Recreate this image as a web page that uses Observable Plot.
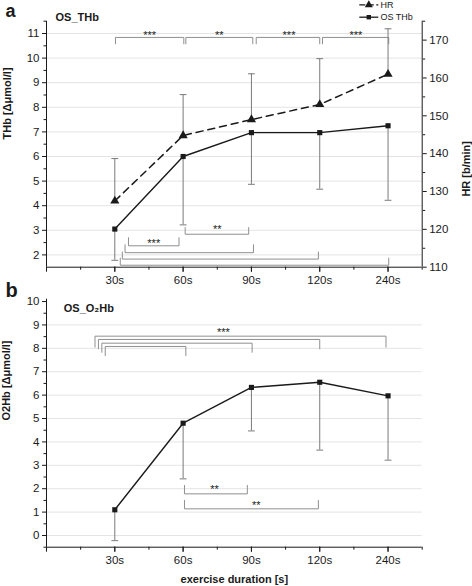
<!DOCTYPE html>
<html><head><meta charset="utf-8">
<script src="https://cdn.jsdelivr.net/npm/d3@7"></script>
<script src="https://cdn.jsdelivr.net/npm/@observablehq/plot@0.6"></script>
<style>
body{margin:0;background:#fff;}
#chart{width:472px;height:586px;}
#chart svg{display:block;overflow:visible;}
</style></head><body><div id="chart"></div>
<script>
// ---- data ----
const durations = ["30s", "60s", "90s", "120s", "240s"];
const positions = [1, 2, 3, 4, 5];
const thbMean = [3.05, 6.0, 6.97, 6.97, 7.25];
const thbLower = [1.78, 3.22, 4.87, 4.67, 4.22];
const hrMean = [127.5, 144.8, 149.0, 153.0, 161.0];
const hrUpper = [138.7, 155.6, 161.1, 165.1, 173.0];
const o2hbMean = [1.1, 4.8, 6.33, 6.55, 5.97];
const o2hbLower = [-0.22, 2.42, 4.47, 3.65, 3.22];
const thbTicks = [2, 3, 4, 5, 6, 7, 8, 9, 10, 11];
const thbMinor = [2.5, 3.5, 4.5, 5.5, 6.5, 7.5, 8.5, 9.5, 10.5, 11.5];
const hrTicks = [110, 120, 130, 140, 150, 160, 170];
const hrMinor = [115, 125, 135, 145, 155, 165, 175];
const o2hbTicks = [0, 1, 2, 3, 4, 5, 6, 7, 8, 9, 10];
const o2hbMinor = [-0.5, 0.5, 1.5, 2.5, 3.5, 4.5, 5.5, 6.5, 7.5, 8.5, 9.5];
const xMajor = [0, 1, 2, 3, 4, 5];
const xMinor = [0.5, 1.5, 2.5, 3.5, 4.5, 5.5];
// significance brackets (x in category positions, y in panel units)
const sigTopA = [
  {x1: 1.01, x2: 2.01, y: 10.84, leg: 10.58, label: "***", lx: 1.51, ly: 11.04},
  {x1: 2.04, x2: 3.02, y: 10.84, leg: 10.58, label: "**", lx: 2.53, ly: 11.04},
  {x1: 3.07, x2: 4.00, y: 10.84, leg: 10.58, label: "***", lx: 3.55, ly: 11.04},
  {x1: 4.04, x2: 5.01, y: 10.84, leg: 10.58, label: "***", lx: 4.53, ly: 11.04}
];
const sigLowA = [
  {x1: 2.03, x2: 2.96, y: 2.84, leg: 3.11, label: "**", lx: 2.5, ly: 3.14},
  {x1: 1.20, x2: 1.94, y: 2.37, leg: 2.70, label: "***", lx: 1.57, ly: 2.57},
  {x1: 1.15, x2: 3.03, y: 2.09, leg: 2.41, label: "", lx: 2, ly: 2},
  {x1: 1.11, x2: 3.98, y: 1.83, leg: 2.12, label: "", lx: 2, ly: 2},
  {x1: 1.08, x2: 5.01, y: 1.58, leg: 1.87, label: "", lx: 2, ly: 2}
];
const sigTopB = [
  {x1: 0.71, x2: 4.97, y: 8.52, leg: 8.05, label: "***", lx: 2.59, ly: 8.8},
  {x1: 0.76, x2: 4.00, y: 8.38, leg: 7.98, label: "", lx: 2, ly: 8},
  {x1: 0.81, x2: 3.01, y: 8.22, leg: 7.83, label: "", lx: 2, ly: 8},
  {x1: 0.86, x2: 2.04, y: 8.08, leg: 7.69, label: "", lx: 2, ly: 8}
];
const sigLowB = [
  {x1: 2.02, x2: 2.94, y: 1.78, leg: 2.14, label: "**", lx: 2.46, ly: 2.09},
  {x1: 2.02, x2: 3.98, y: 1.14, leg: 1.50, label: "**", lx: 3.07, ly: 1.40}
];

// ---- helpers ----
const hrToThb = v => 1.5 + (v - 110) * 10 / 65;
const thbToHr = t => 110 + (t - 1.5) * 6.5;
const capW = 0.05;
const FONT = "'Liberation Sans', Arial, sans-serif";
const INK = "#1a1a1a", GRID = "#e4e4e4", ERR = "#7a7a7a", BRK = "#8f8f8f";
const noText = () => "";
const MID = {lineAnchor: "middle", fill: INK};
const bracketPts = list => list.flatMap((b, k) => [
  {k, x: b.x1, y: b.leg}, {k, x: b.x1, y: b.y}, {k, x: b.x2, y: b.y}, {k, x: b.x2, y: b.leg}
]);
const bracketMarks = list => [
  Plot.line(bracketPts(list), {x: "x", y: "y", z: "k", stroke: BRK, strokeWidth: 1}),
  Plot.text(list.filter(b => b.label), {x: "lx", y: "ly", text: "label", fontSize: 11, fill: INK, dy: 2.8})
];
const xAxisMarks = pad => [
  Plot.axisX(xMajor, {tickSize: 5, tickFormat: noText, label: null, stroke: INK}),
  Plot.axisX(xMinor, {tickSize: 3, tickFormat: noText, label: null, stroke: INK}),
  Plot.axisX(positions, {tickSize: 5, tickPadding: pad, tickFormat: d => durations[d - 1], label: null, stroke: INK, fill: INK, fontSize: 11.5})
];

const rowsA = positions.map((p, i) => ({
  pos: p, thb: thbMean[i], thbLo: thbLower[i], hr: hrToThb(hrMean[i]), hrHi: hrToThb(hrUpper[i])
}));
const rowsB = positions.map((p, i) => ({pos: p, v: o2hbMean[i], lo: o2hbLower[i]}));

// ---- panel a ----
const plotA = Plot.plot({
  width: 472, height: 286,
  marginLeft: 46, marginRight: 50.3, marginTop: 20.7, marginBottom: 19.3,
  x: {domain: [0, 5.5]},
  y: {domain: [1.5, 11.5]},
  style: {fontFamily: FONT, fontSize: "11.5px", background: "transparent", overflow: "visible", color: INK},
  marks: [
    Plot.ruleY(thbTicks, {stroke: GRID}),
    ...bracketMarks(sigTopA),
    ...bracketMarks(sigLowA),
    // error bars
    Plot.ruleX(rowsA, {x: "pos", y1: "hr", y2: "hrHi", stroke: ERR, strokeWidth: 1}),
    Plot.link(rowsA, {x1: d => d.pos - capW, x2: d => d.pos + capW, y1: "hrHi", y2: "hrHi", stroke: ERR}),
    Plot.ruleX(rowsA, {x: "pos", y1: "thb", y2: "thbLo", stroke: ERR, strokeWidth: 1}),
    Plot.link(rowsA, {x1: d => d.pos - capW, x2: d => d.pos + capW, y1: "thbLo", y2: "thbLo", stroke: ERR}),
    // lines
    Plot.line(rowsA, {x: "pos", y: "hr", stroke: INK, strokeWidth: 1.5, strokeDasharray: "7,5"}),
    Plot.line(rowsA, {x: "pos", y: "thb", stroke: INK, strokeWidth: 1.4}),
    Plot.dot(rowsA, {x: "pos", y: "hr", symbol: "triangle", r: 3.4, fill: INK}),
    Plot.dot(rowsA, {x: "pos", y: "thb", symbol: "square", r: 2.9, fill: INK}),
    // axes
    Plot.ruleX([0], {stroke: INK}),
    Plot.ruleX([5.5], {stroke: INK}),
    Plot.ruleY([1.5], {stroke: INK}),
    Plot.axisY(thbTicks, {anchor: "left", tickSize: 4, tickPadding: 3, label: null, stroke: INK, fill: INK}),
    Plot.axisY(thbMinor, {anchor: "left", tickSize: 2.5, tickFormat: noText, label: null, stroke: INK}),
    Plot.axisY(hrTicks.map(hrToThb), {anchor: "right", tickSize: 4, tickPadding: 3, label: null, tickFormat: t => Math.round(thbToHr(t)), stroke: INK, fill: INK}),
    Plot.axisY(hrMinor.map(hrToThb), {anchor: "right", tickSize: 2.5, tickFormat: noText, label: null, stroke: INK}),
    ...xAxisMarks(3.5),
    // labels
    Plot.text(["THb [Δμmol/l]"], {...MID, frameAnchor: "left", rotate: -90, dx: -39, dy: -4.7, fontWeight: "bold", fontSize: 11}),
    Plot.text(["HR [b/min]"], {...MID, frameAnchor: "right", rotate: -90, dx: 44, dy: -3.2, fontWeight: "bold", fontSize: 11}),
    Plot.text(["OS_THb"], {...MID, frameAnchor: "top-left", dx: 9, dy: -3.7, textAnchor: "start", fontWeight: "bold", fontSize: 11}),
    Plot.text(["a"], {...MID, frameAnchor: "top-left", dx: -41, dy: -9.96, textAnchor: "start", fontWeight: "bold", fontSize: 18}),
    // legend
    Plot.ruleY([11.5], {dy: -16.4, insetLeft: 313.3, insetRight: 43.4, stroke: INK, strokeWidth: 1.3, strokeDasharray: "6,2.5"}),
    Plot.dot(["HR"], {frameAnchor: "top-right", dx: -53.4, dy: -16.4, symbol: "triangle", r: 3, fill: INK}),
    Plot.text(["HR"], {...MID, frameAnchor: "top-right", dx: -41.7, dy: -16.4, textAnchor: "start", fontSize: 9}),
    Plot.ruleY([11.5], {dy: -4, insetLeft: 313.3, insetRight: 43.4, stroke: INK, strokeWidth: 1.3}),
    Plot.dot(["OS THb"], {frameAnchor: "top-right", dx: -53.4, dy: -4, symbol: "square", r: 2.5, fill: INK}),
    Plot.text(["OS THb"], {...MID, frameAnchor: "top-right", dx: -41.7, dy: -4, textAnchor: "start", fontSize: 9})
  ]
});

// ---- panel b ----
const plotB = Plot.plot({
  width: 472, height: 300,
  marginLeft: 46, marginRight: 50.3, marginTop: 12.7, marginBottom: 39.3,
  x: {domain: [0, 5.5]},
  y: {domain: [-0.5, 10.1]},
  style: {fontFamily: FONT, fontSize: "11.5px", background: "transparent", overflow: "visible", color: INK},
  marks: [
    Plot.ruleY(o2hbTicks.slice(0, 10), {stroke: GRID}),
    ...bracketMarks(sigTopB),
    ...bracketMarks(sigLowB),
    Plot.ruleX(rowsB, {x: "pos", y1: "v", y2: "lo", stroke: ERR, strokeWidth: 1}),
    Plot.link(rowsB, {x1: d => d.pos - capW, x2: d => d.pos + capW, y1: "lo", y2: "lo", stroke: ERR}),
    Plot.line(rowsB, {x: "pos", y: "v", stroke: INK, strokeWidth: 1.4}),
    Plot.dot(rowsB, {x: "pos", y: "v", symbol: "square", r: 2.9, fill: INK}),
    Plot.ruleX([0], {stroke: INK}),
    Plot.ruleY([-0.5], {stroke: INK}),
    Plot.axisY(o2hbTicks, {anchor: "left", tickSize: 4, tickPadding: 3, label: null, stroke: INK, fill: INK}),
    Plot.axisY(o2hbMinor, {anchor: "left", tickSize: 2.5, tickFormat: noText, label: null, stroke: INK}),
    ...xAxisMarks(4),
    Plot.text(["O2Hb [Δμmol/l]"], {...MID, frameAnchor: "left", rotate: -90, dx: -40.5, dy: -2.7, fontWeight: "bold", fontSize: 11}),
    Plot.text(["exercise duration [s]"], {...MID, frameAnchor: "bottom", dy: 32.3, fontWeight: "bold", fontSize: 11}),
    Plot.text(["OS_O₂Hb"], {...MID, frameAnchor: "top-left", dx: 17.3, dy: 9, textAnchor: "start", fontWeight: "bold", fontSize: 11}),
    Plot.text(["b"], {...MID, frameAnchor: "top-left", dx: -41, dy: -9.1, textAnchor: "start", fontWeight: "bold", fontSize: 20})
  ]
});

const chart = document.getElementById("chart");
chart.appendChild(plotA);
chart.appendChild(plotB);
</script>
</body></html>
